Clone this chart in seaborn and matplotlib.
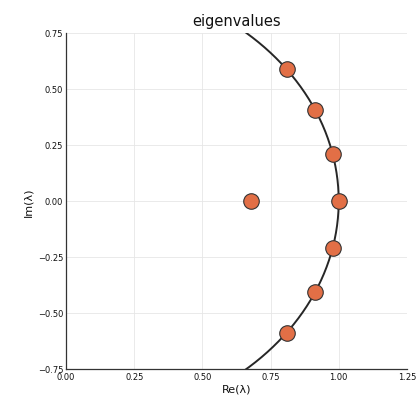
import numpy as np
import pandas as pd
import matplotlib
matplotlib.use("Agg")
import matplotlib.pyplot as plt
import seaborn as sns

# ── Data ──────────────────────────────────────────────────────────────────────
eig_re = [0.809, 0.914, 0.978, 1.000, 0.978, 0.914, 0.809, 0.680]
eig_im = [0.588, 0.407, 0.208, 0.000, -0.208, -0.407, -0.588, 0.000]

x_ticks = [0.00, 0.25, 0.50, 0.75, 1.00, 1.25]
y_ticks = [-0.75, -0.50, -0.25, 0.00, 0.25, 0.50, 0.75]

# unit circle reference curve
theta = np.linspace(0, 2 * np.pi, 400)
circle = pd.DataFrame({"re": np.cos(theta), "im": np.sin(theta)})
eigs = pd.DataFrame({"re": eig_re, "im": eig_im})

sns.set_theme(style="white")
plt.rcParams["font.family"] = ["DejaVu Sans"]

fig = plt.figure(figsize=(4.16, 4.10), dpi=100, facecolor="white")
ax = fig.add_axes([0.159, 0.0976, 0.819, 0.8195])

sns.lineplot(data=circle, x="re", y="im", sort=False, estimator=None,
             color="#262626", linewidth=1.4, ax=ax, zorder=2)
sns.scatterplot(data=eigs, x="re", y="im", color="#E26F46", s=125,
                edgecolor="#333333", linewidth=0.8, ax=ax, zorder=3)

ax.set_xlim(0, 1.25)
ax.set_ylim(-0.75, 0.75)
ax.set_xticks(x_ticks)
ax.set_yticks(y_ticks)
ax.set_xticklabels([f"{v:.2f}" for v in x_ticks])
ax.set_yticklabels([f"{v:.2f}".replace("-", "\u2212") for v in y_ticks])
ax.tick_params(labelsize=6, length=2, direction="in", color="#333333",
               labelcolor="#111111", pad=2)
ax.grid(True, color="#e6e6e6", linewidth=0.6)
for side in ["top", "right"]:
    ax.spines[side].set_visible(False)
for side in ["left", "bottom"]:
    ax.spines[side].set_color("#333333")
    ax.spines[side].set_linewidth(0.9)

ax.set_title("eigenvalues", fontsize=10.5, pad=6, color="#111111")
ax.set_xlabel("Re(λ)", fontsize=8, labelpad=2, color="#111111")
ax.set_ylabel("Im(λ)", fontsize=8, labelpad=3, color="#111111")

fig.savefig("out.png", dpi=100, facecolor="white")
